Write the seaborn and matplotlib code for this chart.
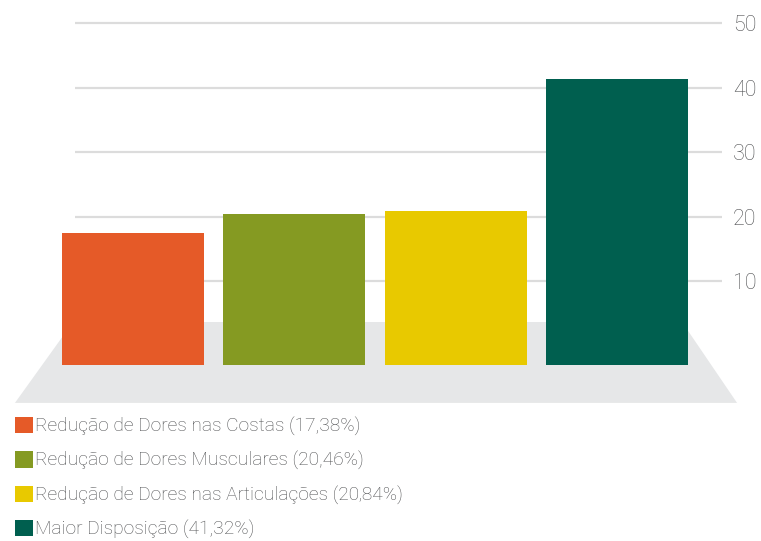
import matplotlib
matplotlib.use("Agg")
import matplotlib.pyplot as plt
from matplotlib.patches import Polygon, Patch
import seaborn as sns
import pandas as pd

categories = ["Redução de Dores nas Costas", "Redução de Dores Musculares",
              "Redução de Dores nas Articulações", "Maior Disposição"]
values = [17.38, 20.46, 20.84, 41.32]
value_labels = ["17,38%", "20,46%", "20‚84%", "41,32%"]
colors = ["#e55a28", "#859a22", "#e8c900", "#005f4f"]
yticks = [10, 20, 30, 40, 50]

sns.set_theme(style="white")
plt.rcParams["font.family"] = ["Roboto", "DejaVu Sans"]
text_color = "#4f5052"

df = pd.DataFrame({"cat": categories, "val": values})

fig = plt.figure(figsize=(7.61, 5.41), dpi=100)
ax = fig.add_axes([0, 0, 722 / 761, 1])

# floor of the fake 3d look
floor = Polygon([(-0.372, 3.64), (3.404, 3.64), (3.745, -8.9), (-0.732, -8.9)],
                closed=True, facecolor="#e6e7e8", edgecolor="none", zorder=0, clip_on=False)
ax.add_patch(floor)

# gridlines
ax.hlines(yticks, -0.36, 3.66, colors="#dcdcdc", linewidth=1.6, zorder=1)

sns.barplot(data=df, x="cat", y="val", hue="cat", palette=colors, width=0.88,
            legend=False, ax=ax, zorder=2, saturation=1, linewidth=0)
# bars start a bit below zero (front edge of the floor)
for p in ax.patches:
    if p is floor:
        continue
    p.set_y(-3)
    p.set_height(p.get_height() + 3)

ax.set_xlim(-0.8246, 3.6516)
ax.set_ylim(-30.31, 53.57)
ax.set_xlabel("")
ax.set_ylabel("")
ax.set_xticks([])
ax.yaxis.tick_right()
ax.set_yticks(yticks)
ax.set_yticklabels([str(t) for t in yticks], color=text_color, fontsize=15.5,
                   fontweight="light")
ax.tick_params(axis="y", length=0, pad=8)
for s in ax.spines.values():
    s.set_visible(False)

handles = [Patch(facecolor=c, edgecolor="none") for c in colors]
labels = [f"{c} ({v})" for c, v in zip(categories, value_labels)]
leg = fig.legend(handles, labels, loc="upper left", bbox_to_anchor=(15 / 761, 1 - 417 / 541),
                 frameon=False, fontsize=13.8, handlelength=0.93, handleheight=0.93,
                 handletextpad=0.1, labelspacing=0.8, borderpad=0, borderaxespad=0)
for t in leg.get_texts():
    t.set_color(text_color)
    t.set_fontweight("light")

fig.savefig("out.png", dpi=100)
